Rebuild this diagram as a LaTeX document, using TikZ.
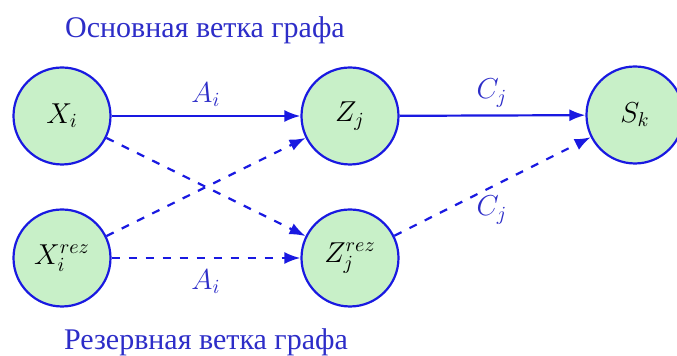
\documentclass[tikz,border=0pt]{standalone}
\usepackage{fontspec}
\setmainfont{Liberation Serif}
\usetikzlibrary{arrows.meta}
\definecolor{lineblue}{RGB}{25,25,225}
\definecolor{textblue}{RGB}{45,45,200}
\definecolor{nodegreen}{RGB}{200,240,200}
\begin{document}
\begin{tikzpicture}[x=0.5pt,y=-0.5pt,
  vertex/.style={circle,draw=lineblue,fill=nodegreen,line width=1.1pt,minimum size=48.5pt,inner sep=0pt,font=\fontsize{14.5}{17}\selectfont},
  conn/.style={draw=lineblue,line width=1.1pt,-{Latex[length=8pt,width=6pt]}},
  dashconn/.style={conn,dash pattern=on 4pt off 4.5pt},
  elabel/.style={text=textblue,font=\fontsize{14.5}{17}\selectfont,inner sep=0pt},
  title/.style={text=textblue,font=\fontsize{15}{18}\selectfont,inner sep=0pt}]
\useasboundingbox (0,0) rectangle (677,356);
\node[vertex] (X) at (62,116) {$X_i$};
\node[vertex] (Z) at (350,116) {$Z_j$};
\node[vertex] (S) at (635,115) {$S_k$};
\node[vertex] (XR) at (62,258) {$X_i^{rez}$};
\node[vertex] (ZR) at (350,258) {$Z_j^{rez}$};
\node[title] (t1) at (205,30) {Основная ветка графа};
\node[title] (t2) at (206,342) {Резервная ветка графа};
\draw[conn] (X) -- (Z);
\draw[conn] (Z) -- (S);
\draw[dashconn] (X) -- (ZR);
\draw[dashconn] (XR) -- (Z);
\draw[dashconn] (XR) -- (ZR);
\draw[dashconn] (ZR) -- (S);
\node[elabel] (la1) at (206,95) {$A_i$};
\node[elabel] (lc1) at (492,93) {$C_j$};
\node[elabel] (la2) at (206,282) {$A_i$};
\node[elabel] (lc2) at (492,210) {$C_j$};
\end{tikzpicture}
\end{document}
